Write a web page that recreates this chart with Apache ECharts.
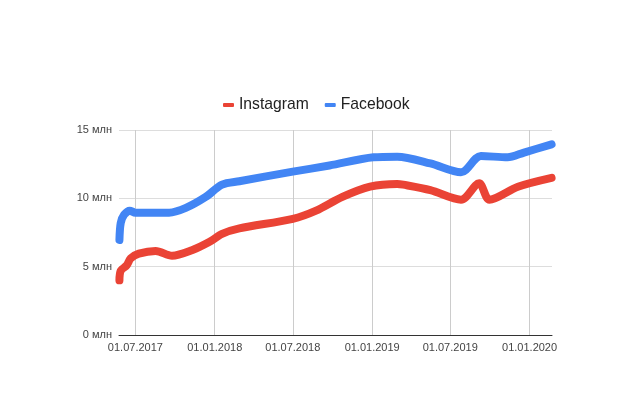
<!DOCTYPE html>
<html>
<head>
<meta charset="utf-8">
<script src="https://cdn.jsdelivr.net/npm/echarts@6/dist/echarts.min.js"></script>
<style>html,body{margin:0;padding:0;background:#fff}#chart{width:644px;height:398px}</style>
</head>
<body>
<div id="chart"></div>
<script>
	// данные
	var instDates = ['2017-05-25','2017-05-28','2017-06-11','2017-06-20','2017-07-09','2017-08-17','2017-09-24','2017-11-09','2017-12-19','2018-01-18','2018-02-27','2018-07-01','2018-08-24','2018-10-24','2018-12-27','2019-02-28','2019-03-14','2019-05-16','2019-07-26','2019-09-06','2019-09-30','2019-12-05','2020-02-21'];
	var instValues = [4.0,4.7,5.1,5.6,5.95,6.15,5.8,6.2,6.8,7.4,7.8,8.5,9.1,10.1,10.85,11.05,11.0,10.6,9.9,11.1,9.9,10.85,11.5];
	var fbDates = ['2017-05-25','2017-05-28','2017-06-05','2017-06-18','2017-07-01','2017-09-17','2017-10-26','2017-12-11','2018-01-18','2018-02-27','2018-07-01','2018-09-24','2019-01-04','2019-02-28','2019-05-16','2019-07-26','2019-09-10','2019-11-11','2019-12-19','2020-02-21'];
	var fbValues = [6.95,8.2,8.8,9.1,8.95,8.95,9.3,10.1,11.0,11.25,11.95,12.4,13.0,13.05,12.55,11.9,13.1,13.0,13.35,13.95];
	var yTicks = [0,5,10,15];

	function pairs(d,v){
		var out=[];
		for(var i=0;i<d.length;i++){out.push([d[i],v[i]*1000000]);}
		return out;
	}
	function pad(n){return n<10?'0'+n:''+n;}

	var myChart = echarts.init(document.getElementById('chart'));
	var option = {
		backgroundColor:'#fff',
		animation:false,
		color:['#ea4335','#4285f4'],
		legend:{top:92,left:218,icon:'roundRect',itemWidth:11,itemHeight:4,itemGap:16,
			textStyle:{fontFamily:'Liberation Sans, Arial',fontSize:15.7,color:'#222'},
			data:['Instagram','Facebook']},
		grid:{left:119,right:92,top:130,bottom:63},
		xAxis:{type:'time',min:'2017-05-24',max:'2020-02-22',
			minInterval:182*86400000,maxInterval:184*86400000,
			axisLine:{show:true,lineStyle:{color:'#333',width:1}},
			axisTick:{show:false},
			splitLine:{show:true,showMinLine:false,showMaxLine:false,lineStyle:{color:'#ccc'}},
			axisLabel:{fontFamily:'Liberation Sans, Arial',fontSize:11,color:'#444',margin:7,hideOverlap:false,
				formatter:function(v){var d=new Date(v);return pad(d.getDate())+'.'+pad(d.getMonth()+1)+'.'+d.getFullYear();}}},
		yAxis:{type:'value',min:0,max:15000000,interval:5000000,
			axisLine:{show:false},axisTick:{show:false},
			splitLine:{show:true,lineStyle:{color:'#ddd'}},
			axisLabel:{fontFamily:'Liberation Sans, Arial',fontSize:11,color:'#444',margin:7,
				formatter:function(v){return yTicks[Math.round(v/5000000)]+' млн';}}},
		series:[
			{name:'Instagram',type:'line',smooth:0.3,symbol:'none',data:pairs(instDates,instValues),
				lineStyle:{width:8,cap:'round',join:'round'}},
			{name:'Facebook',type:'line',smooth:0.3,symbol:'none',data:pairs(fbDates,fbValues),
				lineStyle:{width:8,cap:'round',join:'round'}}
		]
	};
	myChart.setOption(option);
</script>
</body>
</html>
